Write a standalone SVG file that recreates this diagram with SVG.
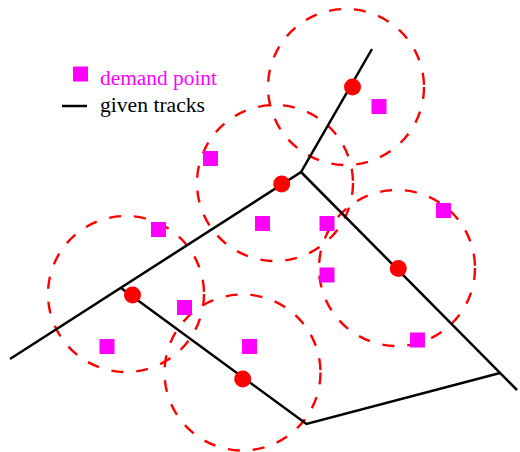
<svg xmlns="http://www.w3.org/2000/svg" width="520" height="452" viewBox="0 0 520 452">
<style>
.zone{fill:none;stroke:#ff0000;stroke-width:2.4;stroke-dasharray:12 13}
.track{fill:none;stroke:#000;stroke-width:2.5;stroke-linejoin:miter}
.stn{fill:#ff0000}
.dp{fill:#ff00ff}
.lbl{font-family:"Liberation Serif","Times New Roman",serif;font-size:20px}
</style>
<rect width="520" height="452" fill="#fff"/>
<g id="zones">
<circle class="zone" cx="346" cy="87" r="78"/>
<circle class="zone" cx="275" cy="183" r="78"/>
<circle class="zone" cx="126" cy="294" r="78"/>
<circle class="zone" cx="242.5" cy="372.5" r="78"/>
<circle class="zone" cx="397" cy="268" r="78"/>
</g>
<g id="tracks">
<polyline class="track" points="10,359 301,172 372,49"/>
<polyline class="track" points="301,172 517,390"/>
<polyline class="track" points="121,288 306.5,424 500,373"/>
</g>
<g id="stations">
<circle class="stn" cx="352.5" cy="87" r="8.5"/>
<circle class="stn" cx="281.7" cy="184" r="8.5"/>
<circle class="stn" cx="132.5" cy="295" r="8.5"/>
<circle class="stn" cx="242.7" cy="379" r="8.5"/>
<circle class="stn" cx="398.3" cy="268.5" r="8.5"/>
</g>
<g id="demand-points">
<rect class="dp" x="371.5" y="99" width="15" height="15"/>
<rect class="dp" x="203" y="151" width="15" height="15"/>
<rect class="dp" x="255" y="216" width="15" height="15"/>
<rect class="dp" x="319.5" y="216" width="15" height="15"/>
<rect class="dp" x="436" y="203" width="15" height="15"/>
<rect class="dp" x="151" y="222" width="15" height="15"/>
<rect class="dp" x="177" y="300" width="15" height="15"/>
<rect class="dp" x="99.5" y="339" width="15" height="15"/>
<rect class="dp" x="319.5" y="267.5" width="15" height="15"/>
<rect class="dp" x="410" y="332.5" width="15" height="15"/>
<rect class="dp" x="242" y="339" width="15" height="15"/>
</g>
<g id="legend">
<rect class="dp" x="73" y="66.5" width="15" height="15"/>
<text class="lbl" x="100" y="85" fill="#ff00ff" textLength="117" lengthAdjust="spacingAndGlyphs">demand point</text>
<line x1="62" y1="106" x2="87" y2="106" stroke="#000" stroke-width="2.5"/>
<text class="lbl" x="100" y="112" fill="#000" textLength="105" lengthAdjust="spacingAndGlyphs">given tracks</text>
</g>
</svg>
